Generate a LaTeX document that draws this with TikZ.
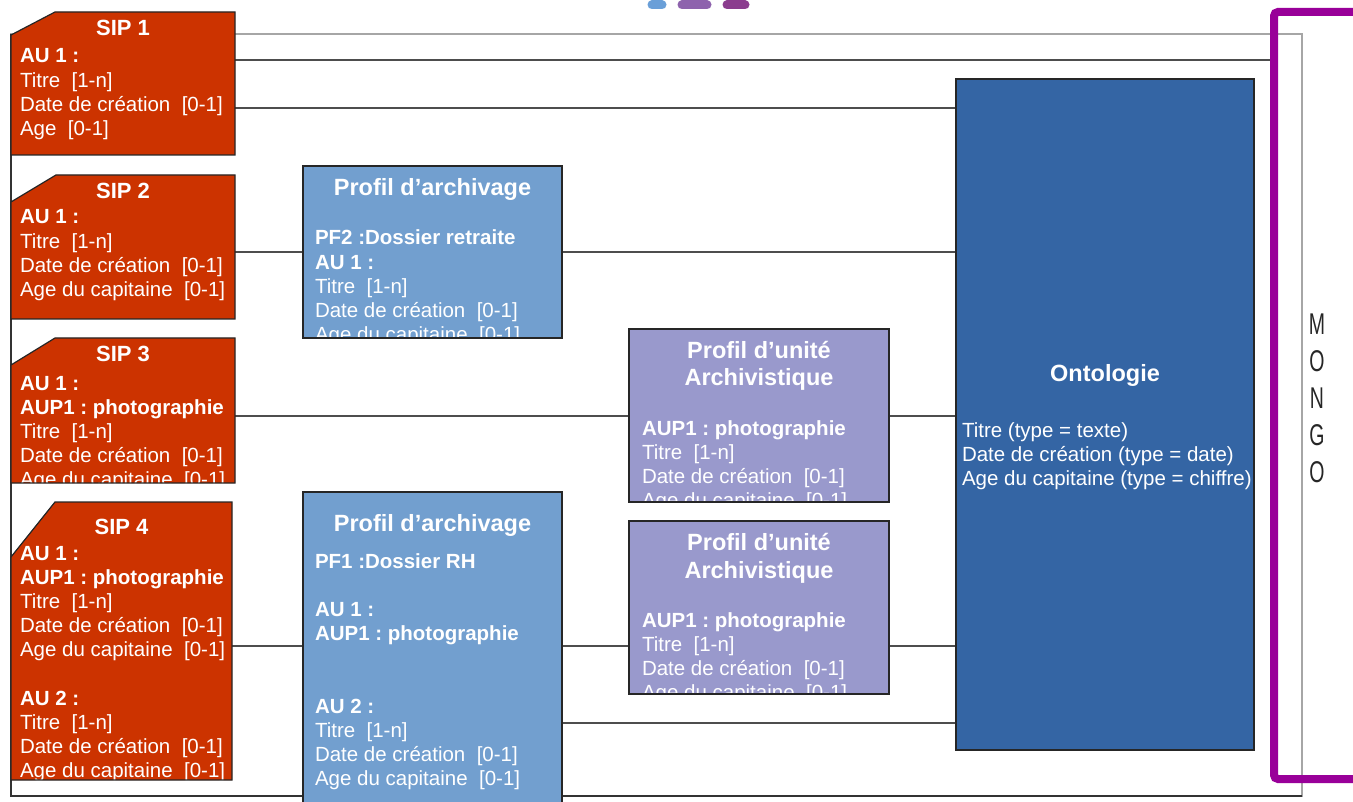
\documentclass[tikz,border=0pt]{standalone}
\usepackage{fontspec}
\usepackage{graphicx}
\setmainfont{Liberation Sans}
\frenchspacing
\definecolor{sipred}{HTML}{CC3300}
\definecolor{pablue}{HTML}{729FCF}
\definecolor{puapurple}{HTML}{9999CC}
\definecolor{ontoblue}{HTML}{3465A4}
\definecolor{mongopurple}{HTML}{990099}
\definecolor{framelight}{HTML}{A6A6A6}
\definecolor{framedark}{HTML}{333333}
\definecolor{conngray}{HTML}{4D4D4D}
\definecolor{dashA}{HTML}{6A9FD8}
\definecolor{dashB}{HTML}{8E63AD}
\definecolor{dashC}{HTML}{8B3D8E}
\pgfdeclarelayer{bg}
\pgfsetlayers{bg,main}
\newcommand\mybox[6]{\node[#6, minimum width={#4-#2}, minimum height={#5-#3}] (#1) at ({(#2+#4)/2},{(#3+#5)/2}) {};}
\newcommand\sipfill[3]{\fill[sipred] ([yshift=-#3pt]#1.north west) -- ([xshift=#2pt]#1.north west) -- (#1.north east) -- (#1.south east) -- (#1.south west) -- cycle;}
\newcommand\sipdraw[3]{\draw[boxline] ([yshift=-#3pt]#1.north west) -- ([xshift=#2pt]#1.north west) -- (#1.north east) -- (#1.south east) -- (#1.south west) -- cycle;}
\newcommand\sx[1]{\scalebox{0.65}[1]{#1}}
\begin{document}
\begin{tikzpicture}[x=1pt, y=-1pt,
  boxbase/.style={rectangle, inner sep=0pt, outer sep=0pt},
  boxline/.style={draw=black!85, line width=1.2pt},
  conn/.style={draw=conngray, line width=1.4pt},
  bodytxt/.style={text=white, anchor=north west, inner sep=0pt, outer sep=0pt, align=left, font=\fontsize{20.5}{24.2}\selectfont},
  ttl/.style={text=white, anchor=north, inner sep=0pt, outer sep=0pt, align=center, font=\bfseries\fontsize{23.5}{28}\selectfont},
  sipttl/.style={ttl, font=\bfseries\fontsize{22}{28}\selectfont},
  mongotxt/.style={text=black!85, anchor=north, inner sep=0pt, align=center, font=\fontsize{30}{37}\selectfont},
  dashmark/.style={line width=9pt, line cap=round},
]
\useasboundingbox (0,0) rectangle (1353,802);

% top decoration
\draw[dashmark, dashA] (652,5) -- (662,5);
\draw[dashmark, dashB] (682,5) -- (707,5);
\draw[dashmark, dashC] (727,5) -- (745,5);

% MONGO box
\node[boxbase, draw=mongopurple, line width=8pt, rounded corners=4pt, minimum width=160, minimum height=767] (mongo) at (1354,395.5) {};
\node[mongotxt] (mongot) at (1317,308.1) {\strut\sx{M}\\\sx{O}\\\sx{N}\\\sx{G}\\\sx{O}};

% SIP 1
\mybox{sip1}{11}{12}{235}{155}{boxbase}
\sipfill{sip1}{44}{23}
\node[sipttl] (sip1h) at (123,16.4) {\strut SIP 1};
\begin{scope}
\clip (sip1.south west) rectangle (sip1.north east);
\node[bodytxt] (sip1b) at (20,46.06) {\strut\textbf{AU 1 :}\\Titre\ \ [1-n]\\Date de création\ \ [0-1]\\Age\ \ [0-1]};
\end{scope}
\sipdraw{sip1}{44}{23}

% SIP 2
\mybox{sip2}{11}{175}{235}{319}{boxbase}
\sipfill{sip2}{45}{27}
\node[sipttl] (sip2h) at (123,179.4) {\strut SIP 2};
\begin{scope}
\clip (sip2.south west) rectangle (sip2.north east);
\node[bodytxt] (sip2b) at (20,207.06) {\strut\textbf{AU 1 :}\\Titre\ \ [1-n]\\Date de création\ \ [0-1]\\Age du capitaine\ \ [0-1]};
\end{scope}
\sipdraw{sip2}{45}{27}

% SIP 3
\mybox{sip3}{11}{338}{235}{483}{boxbase}
\sipfill{sip3}{44}{27}
\node[sipttl] (sip3h) at (123,342.4) {\strut SIP 3};
\begin{scope}
\clip (sip3.south west) rectangle (sip3.north east);
\node[bodytxt] (sip3b) at (20,373.06) {\strut\textbf{AU 1 :}\\\textbf{AUP1 : photographie}\\Titre\ \ [1-n]\\Date de création\ \ [0-1]\\Age du capitaine\ \ [0-1]};
\end{scope}
\sipdraw{sip3}{44}{27}

% SIP 4
\mybox{sip4}{11}{502}{232}{780}{boxbase}
\sipfill{sip4}{44}{55}
\node[sipttl] (sip4h) at (121.5,514.4) {\strut SIP 4};
\begin{scope}
\clip (sip4.south west) rectangle (sip4.north east);
\node[bodytxt] (sip4b) at (20,543.06) {\strut\textbf{AU 1 :}\\\textbf{AUP1 : photographie}\\Titre\ \ [1-n]\\Date de création\ \ [0-1]\\Age du capitaine\ \ [0-1]\\[24.2pt]\textbf{AU 2 :}\\Titre\ \ [1-n]\\Date de création\ \ [0-1]\\Age du capitaine\ \ [0-1]};
\end{scope}
\sipdraw{sip4}{44}{55}

% Profil d'archivage 1
\mybox{pa1}{303}{166}{562}{338}{boxbase, fill=pablue}
\node[ttl] (pa1h) at (432.5,176.4) {\strut Profil d’archivage};
\begin{scope}
\clip (pa1.south west) rectangle (pa1.north east);
\node[bodytxt] (pa1b) at (315,228.06) {\strut\textbf{PF2 :Dossier retraite}\\\textbf{AU 1 :}\\Titre\ \ [1-n]\\Date de création\ \ [0-1]\\Age du capitaine\ \ [0-1]};
\end{scope}
\draw[boxline] (pa1.south west) rectangle (pa1.north east);

% Profil d'archivage 2
\mybox{pa2}{303}{492}{562}{830}{boxbase, fill=pablue}
\node[ttl] (pa2h) at (432.5,511.4) {\strut Profil d’archivage};
\node[bodytxt] (pa2b) at (315,551.06) {\strut\textbf{PF1 :Dossier RH}\\[24.2pt]\textbf{AU 1 :}\\\textbf{AUP1 : photographie}\\[48.4pt]\textbf{AU 2 :}\\Titre\ \ [1-n]\\Date de création\ \ [0-1]\\Age du capitaine\ \ [0-1]};
\draw[boxline] (pa2.south west) rectangle (pa2.north east);

% Profil d'unite archivistique 1
\mybox{pua1}{629}{329}{889}{502}{boxbase, fill=puapurple}
\node[ttl] (pua1h) at (759,338.4) {\strut Profil d’unité\\Archivistique};
\begin{scope}
\clip (pua1.south west) rectangle (pua1.north east);
\node[bodytxt] (pua1b) at (642,418.06) {\strut\textbf{AUP1 : photographie}\\Titre\ \ [1-n]\\Date de création\ \ [0-1]\\Age du capitaine\ \ [0-1]};
\end{scope}
\draw[boxline] (pua1.south west) rectangle (pua1.north east);

% Profil d'unite archivistique 2
\mybox{pua2}{629}{521}{889}{694}{boxbase, fill=puapurple}
\node[ttl] (pua2h) at (759,530.4) {\strut Profil d’unité\\Archivistique};
\begin{scope}
\clip (pua2.south west) rectangle (pua2.north east);
\node[bodytxt] (pua2b) at (642,610.06) {\strut\textbf{AUP1 : photographie}\\Titre\ \ [1-n]\\Date de création\ \ [0-1]\\Age du capitaine\ \ [0-1]};
\end{scope}
\draw[boxline] (pua2.south west) rectangle (pua2.north east);

% Ontologie
\mybox{onto}{956}{79}{1254}{750}{boxbase, fill=ontoblue}
\node[ttl] (ontoh) at (1105,362.4) {\strut Ontologie};
\node[bodytxt] (ontob) at (962,420.06) {\strut Titre (type = texte)\\Date de création (type = date)\\Age du capitaine (type = chiffre)};
\draw[boxline] (onto.south west) rectangle (onto.north east);

% background: frame and connectors
\begin{pgfonlayer}{bg}
\node[boxbase, draw=framelight, line width=1.8pt, minimum width=1291, minimum height=762] (frame) at (656.5,415) {};
\draw[draw=framedark, line width=1.4pt] (frame.north west) -- (frame.south west) -- (frame.south east);
\draw[conn] (sip1.east |- 0,60) -- (mongo.west |- 0,60);
\draw[conn] (sip1.east |- 0,108) -- (onto.west |- 0,108);
\draw[conn] (sip2.east |- 0,252) -- (pa1.west |- 0,252);
\draw[conn] (pa1.east |- 0,252) -- (onto.west |- 0,252);
\draw[conn] (sip3.east |- 0,416) -- (pua1.west |- 0,416);
\draw[conn] (pua1.east |- 0,416) -- (onto.west |- 0,416);
\draw[conn] (sip4.east |- 0,646) -- (pa2.west |- 0,646);
\draw[conn] (pa2.east |- 0,646) -- (pua2.west |- 0,646);
\draw[conn] (pua2.east |- 0,646) -- (onto.west |- 0,646);
\draw[conn] (pa2.east |- 0,723) -- (onto.west |- 0,723);
\end{pgfonlayer}
\end{tikzpicture}
\end{document}
